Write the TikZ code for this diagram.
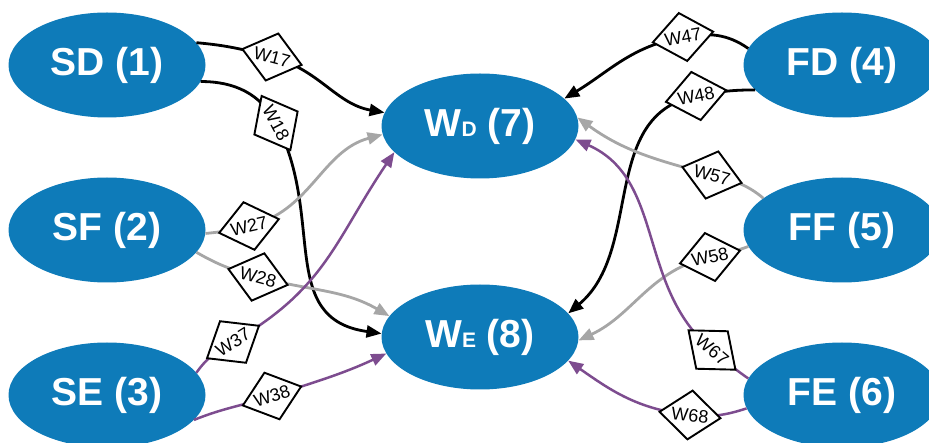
\documentclass[tikz,border=0pt]{standalone}
\usepackage{fontspec}
\setmainfont{Liberation Sans}
\usetikzlibrary{shapes.geometric,arrows.meta}

\definecolor{nodeblue}{RGB}{14,123,185}
\definecolor{edgegray}{RGB}{166,166,166}
\definecolor{edgepurple}{RGB}{125,76,143}

\begin{document}
\begin{tikzpicture}[x=1pt,y=-1pt,
  state/.style={ellipse, fill=nodeblue, draw=none, minimum width=197pt,
    minimum height=105pt, inner sep=0pt, text=white,
    font=\fontsize{39}{40}\selectfont\bfseries},
  wlabel/.style={diamond, draw=black, line width=1.9pt, fill=white,
    inner sep=0pt, minimum width=62pt, minimum height=39pt,
    font=\fontsize{18}{18}\selectfont},
  conn/.style={line width=2.8pt, -{Triangle[length=15pt,width=12pt]}},
  blackconn/.style={conn, draw=black},
  grayconn/.style={conn, draw=edgegray},
  purpleconn/.style={conn, line width=2.5pt, draw=edgepurple}]

\useasboundingbox (0,0) rectangle (929,443);
\clip (0,0) rectangle (929,443);

% states
\node[state] (SD) at (107,65)  {SD (1)};
\node[state] (SF) at (107,230) {SF (2)};
\node[state] (SE) at (107,395) {SE (3)};
\node[state] (FD) at (842,65)  {FD (4)};
\node[state] (FF) at (842,230) {FF (5)};
\node[state] (FE) at (842,395) {FE (6)};
\node[state] (WD) at (480,126) {W{\fontsize{21}{21}\selectfont D} (7)};
\node[state] (WE) at (480,337) {W{\fontsize{21}{21}\selectfont E} (8)};

% weight label positions
\coordinate (p17) at (272,57);
\coordinate (p18) at (276,123);
\coordinate (p27) at (249,226);
\coordinate (p28) at (258,277);
\coordinate (p37) at (233,342);
\coordinate (p38) at (272,396);
\coordinate (p47) at (683,37);
\coordinate (p48) at (696,96);
\coordinate (p57) at (712,175);
\coordinate (p58) at (710,257);
\coordinate (p67) at (712,350);
\coordinate (p68) at (690,415);

% connections
\draw[blackconn] (SD.14) to[out=-5,in=165] (p17) to[out=-15,in=170] (WD.172);
\draw[blackconn] (SD.-10) to[out=0,in=118] (p18) to[out=-62,in=172,looseness=1.15] (WE.178);
\draw[grayconn] (SF.-2) to[out=5,in=193] (p27) to[out=13,in=195] (WD.185);
\draw[grayconn] (SF.-14) to[out=-30,in=165] (p28) to[out=-15,in=150] (WE.167);
\draw[purpleconn] (SE.14) to[out=55,in=210] (p37) to[out=30,in=236,looseness=1.1] (WD.197);
\draw[purpleconn] (SE.-16) to[out=22,in=198] (p38) to[out=18,in=205] (WE.190);
\draw[blackconn] (FD.170) to[out=145,in=10] (p47) to[out=190,in=31] (WD.18);
\draw[blackconn] (FD.196) to[out=180,in=11] (p48) to[out=191,in=40] (WE.15);
\draw[grayconn] (FF.158) to[out=140,in=-15] (p57) to[out=165,in=-36] (WD.5);
\draw[grayconn] (FF.190) to[out=200,in=12] (p58) to[out=192,in=25] (WE.-2);
\draw[purpleconn] (FE.170) to[out=145,in=-40] (p67) to[out=140,in=-24] (WD.-8);
\draw[purpleconn] (FE.188) to[out=198,in=-6] (p68) to[out=174,in=-35] (WE.-15);

% weight labels
\node[wlabel, rotate=-15] (w17) at (p17) {W17};
\node[wlabel, rotate=-62] (w18) at (p18) {W18};
\node[wlabel, rotate=13]  (w27) at (p27) {W27};
\node[wlabel, rotate=-15] (w28) at (p28) {W28};
\node[wlabel, rotate=32]  (w37) at (p37) {W37};
\node[wlabel, rotate=18]  (w38) at (p38) {W38};
\node[wlabel, rotate=10]  (w47) at (p47) {W47};
\node[wlabel, rotate=11]  (w48) at (p48) {W48};
\node[wlabel, rotate=-15] (w57) at (p57) {W57};
\node[wlabel, rotate=12]  (w58) at (p58) {W58};
\node[wlabel, rotate=-40] (w67) at (p67) {W67};
\node[wlabel, rotate=-6]  (w68) at (p68) {W68};
\end{tikzpicture}
\end{document}
